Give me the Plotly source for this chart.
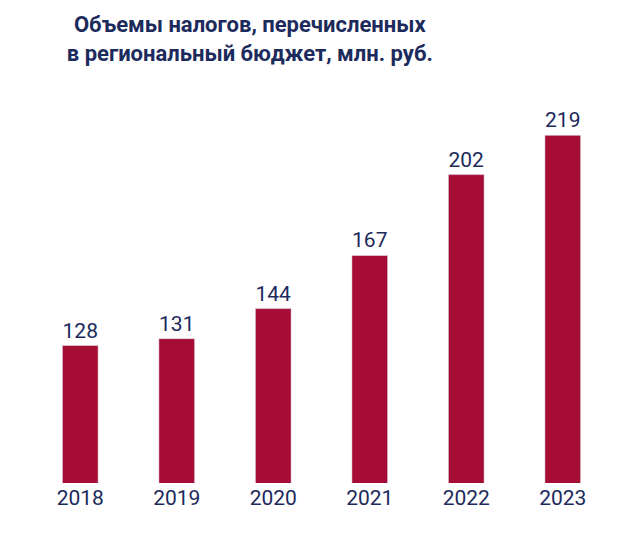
import plotly.graph_objects as go

years = ["2018", "2019", "2020", "2021", "2022", "2023"]
values = [128, 131, 144, 167, 202, 219]

navy = "#1c2a5c"
bar_color = "#a50d34"
font_family = "Liberation Sans Narrow, Roboto, Arial"

fig = go.Figure(go.Bar(
    x=years,
    y=values,
    marker=dict(color=bar_color),
    text=values,
    textposition="outside",
    textfont=dict(size=21, color=navy, family=font_family),
    cliponaxis=False,
))

fig.update_layout(
    width=620,
    height=544,
    margin=dict(l=24, r=17, t=80, b=69),
    plot_bgcolor="white",
    paper_bgcolor="white",
    bargap=0.63,
    showlegend=False,
    font=dict(family=font_family, color=navy),
    title=dict(
        text="<b>Объемы налогов, перечисленных<br>в региональный бюджет, млн. руб.</b>",
        x=0.39, xanchor="center", y=0.955, yanchor="top",
        font=dict(size=22, color=navy, family=font_family),
    ),
)
fig.update_xaxes(showline=False, ticks="", tickfont=dict(size=21, color=navy))
fig.update_yaxes(visible=False, range=[68.5, 239.5])

fig.write_html("out.html")
